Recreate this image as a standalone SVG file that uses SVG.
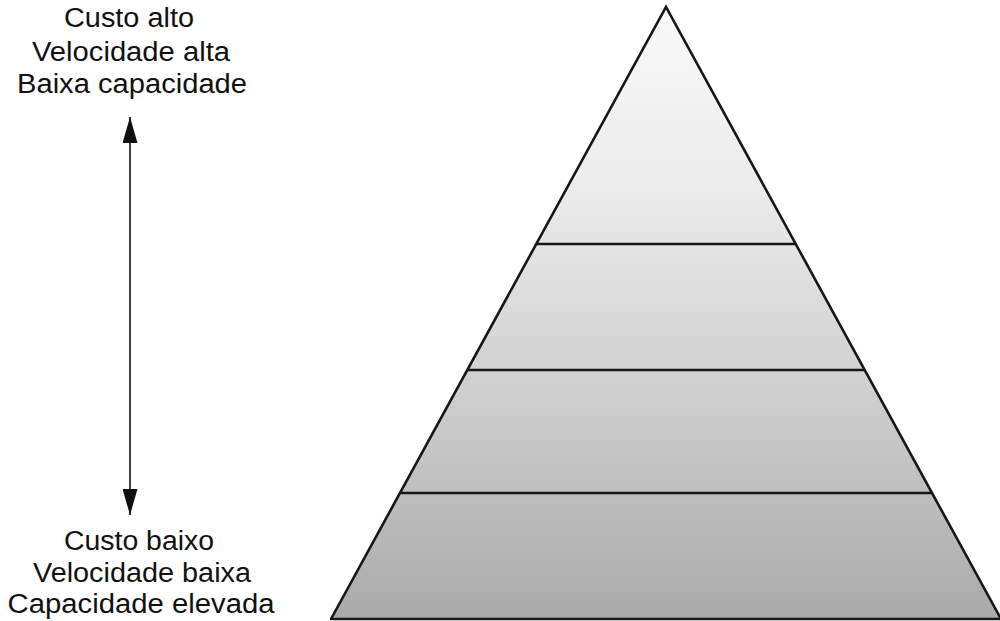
<svg xmlns="http://www.w3.org/2000/svg" width="1000" height="621" viewBox="0 0 1000 621">
  <style>
    .lbl { font-family: "Liberation Sans", Arial, sans-serif; font-size: 27px; fill: #111; text-anchor: middle; }
    .edge { fill: none; stroke: #161616; stroke-width: 2.6; stroke-linejoin: miter; }
    .div { stroke: #161616; stroke-width: 2.3; }
    .conn { stroke: #111; stroke-width: 1.6; fill: none; }
  </style>
  <defs>
    <linearGradient id="shade" gradientUnits="userSpaceOnUse" x1="0" y1="7" x2="0" y2="619">
      <stop offset="0" stop-color="#f9f9f9"/>
      <stop offset="0.3" stop-color="#ebebeb"/>
      <stop offset="0.5" stop-color="#dadada"/>
      <stop offset="0.72" stop-color="#c6c6c6"/>
      <stop offset="1" stop-color="#a9a9a9"/>
    </linearGradient>
    <marker id="head" viewBox="0 0 26 15" refX="26" refY="7.5" markerWidth="26" markerHeight="15" markerUnits="userSpaceOnUse" orient="auto-start-reverse">
      <path d="M0,0 L26,7.5 L0,15 Z" fill="#111"/>
    </marker>
  </defs>
  <rect width="1000" height="621" fill="#ffffff"/>

  <g id="pyramid">
    <polygon points="666,7 331,619 1001,619" fill="url(#shade)"/>
    <g id="level-1"><line class="div" x1="536" y1="244" x2="796" y2="244"/></g>
    <g id="level-2"><line class="div" x1="467" y1="370" x2="865" y2="370"/></g>
    <g id="level-3"><line class="div" x1="400" y1="493" x2="932" y2="493"/></g>
    <polyline class="edge" points="331,619 666,7 1001,619"/>
    <line class="edge" x1="330" y1="619" x2="1000" y2="619"/>
  </g>

  <g id="connectors">
    <line class="conn" x1="130" y1="117" x2="130" y2="515" marker-start="url(#head)" marker-end="url(#head)"/>
  </g>

  <g id="label-top">
    <text class="lbl" x="129" y="27" textLength="130" lengthAdjust="spacingAndGlyphs">Custo alto</text>
    <text class="lbl" x="131" y="61" textLength="198" lengthAdjust="spacingAndGlyphs">Velocidade alta</text>
    <text class="lbl" x="132" y="93" textLength="230" lengthAdjust="spacingAndGlyphs">Baixa capacidade</text>
  </g>

  <g id="label-bottom">
    <text class="lbl" x="139" y="550" textLength="150" lengthAdjust="spacingAndGlyphs">Custo baixo</text>
    <text class="lbl" x="142" y="582" textLength="218" lengthAdjust="spacingAndGlyphs">Velocidade baixa</text>
    <text class="lbl" x="141" y="613" textLength="267" lengthAdjust="spacingAndGlyphs">Capacidade elevada</text>
  </g>
</svg>
